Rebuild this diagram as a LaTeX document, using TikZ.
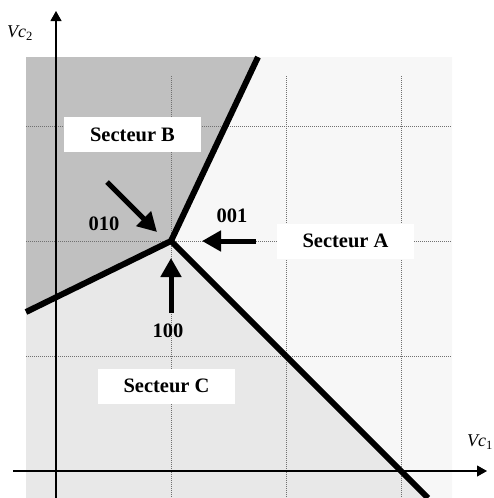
\documentclass[tikz,border=0pt]{standalone}
\usepackage{fontspec}
\setmainfont{Liberation Serif}
\usetikzlibrary{arrows.meta}
\definecolor{secB}{HTML}{C0C0C0}
\definecolor{secA}{HTML}{F7F7F7}
\definecolor{secC}{HTML}{E8E8E8}
\definecolor{gridc}{HTML}{707070}
\tikzset{
  gridline/.style={gridc, line width=1pt, dash pattern=on 1pt off 1pt},
  axisline/.style={black, line width=1.1pt, -{Triangle[length=10pt,width=11pt]}},
  border/.style={black, line width=6pt, line join=miter},
  bigarrow/.style={black, line width=5pt, -{Triangle[length=19pt,width=20pt]}},
  secbox/.style={fill=white, inner sep=0pt, minimum width=137pt, minimum height=35pt,
    text height=13.5pt, text depth=0pt, font=\fontsize{20.5}{24}\selectfont\bfseries},
  code/.style={inner sep=0pt, text height=13.5pt, text depth=0pt,
    font=\fontsize{20.5}{24}\selectfont\bfseries},
  axlabel/.style={inner sep=0pt, font=\fontsize{18}{20}\selectfont}
}
\begin{document}
\begin{tikzpicture}[x=1pt,y=-1pt]
\useasboundingbox (0,0) rectangle (494,498);
% regions
\fill[secB] (26,57) -- (258,57) -- (171,241) -- (26,312) -- cycle;
\fill[secA] (258,57) -- (452,57) -- (452,498) -- (428,498) -- (171,241) -- cycle;
\fill[secC] (26,312) -- (171,241) -- (428,498) -- (26,498) -- cycle;
% grid
\foreach \gx in {171,286,401} \draw[gridline] (\gx,76) -- (\gx,498);
\foreach \gy in {126,241,356} \draw[gridline] (26,\gy) -- (452,\gy);
% axes
\coordinate (yb) at (56,498);
\coordinate (yt) at (56,11);
\coordinate (xl) at (13,471);
\coordinate (xr) at (487,471);
\draw[axisline] (yb) -- (yt);
\draw[axisline] (xl) -- (xr);
\node[axlabel, anchor=west] (vc2) at (7,33) {\itshape Vc\textsubscript{\upshape 2}};
\node[axlabel, anchor=west] (vc1) at (467,442) {\itshape Vc\textsubscript{\upshape 1}};
% sector boundaries
\coordinate (O) at (171,241);
\coordinate (tl) at (26,312);
\coordinate (tr) at (258,57);
\coordinate (br) at (428,498);
\draw[border] (tl) -- (O) -- (tr);
\draw[border] (O) -- (br);
% sector labels
\node[secbox] (sB) at (132.5,134.5) {Secteur B};
\node[secbox] (sA) at (345.5,241) {Secteur A};
\node[secbox] (sC) at (166.5,386) {Secteur C};
% arrows
\coordinate (a010s) at (107,182);
\coordinate (a010e) at (157,232);
\coordinate (a001s) at (256,241);
\coordinate (a001e) at (202,241);
\coordinate (a100s) at (171,313);
\coordinate (a100e) at (171,258);
\draw[bigarrow] (a010s) -- (a010e);
\draw[bigarrow] (a001s) -- (a001e);
\draw[bigarrow] (a100s) -- (a100e);
\node[code] (l010) at (104,224) {010};
\node[code] (l001) at (232,216) {001};
\node[code] (l100) at (168,331) {100};
\end{tikzpicture}
\end{document}
